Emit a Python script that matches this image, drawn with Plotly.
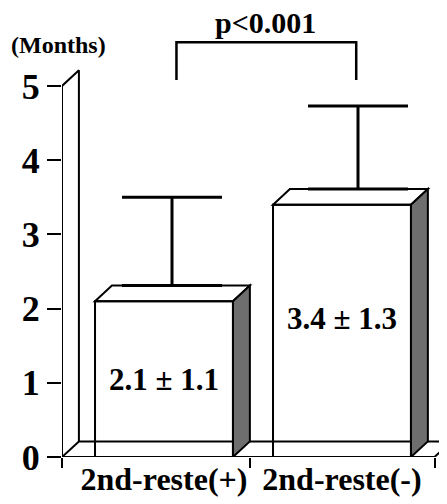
import plotly.graph_objects as go

# ---- data ----
categories = ["2nd-reste(+)", "2nd-reste(-)"]
means = [2.1, 3.4]
sds = [1.1, 1.3]
whisker_tops = [3.5, 4.73]          # drawn whisker ends
y_ticks = [0, 1, 2, 3, 4, 5]
p_text = "p<0.001"
y_unit = "(Months)"

# ---- geometry / style ----
DX, DY = 0.095, 0.21        # 3-D depth offset (data units)
BAR_W = 0.775
X0, X1 = -0.573, 1.52       # floor extent
XMAX = 1.59
YMAX = 6.05
SERIF = "Liberation Serif"
LW = 2
WHISKER_SHIFT = [0.045, 0.09]

xs = list(range(len(categories)))
fig = go.Figure()

# front faces
fig.add_trace(go.Bar(x=xs, y=means, width=BAR_W,
                     marker=dict(color="white", line=dict(color="black", width=LW)),
                     hoverinfo="skip", showlegend=False))

# floor and left wall outlines
fig.add_trace(go.Scatter(
    x=[X0, X1, X1 + DX, None, X0, X0 + DX, XMAX + DX, None,
       X0, X0, X0 + DX, X0 + DX],
    y=[0, 0, DY, None, 0, DY, DY, None,
       0, y_ticks[-1], y_ticks[-1] + DY, DY],
    mode="lines", line=dict(color="black", width=LW),
    hoverinfo="skip", showlegend=False, cliponaxis=False))

# top and side faces
for x, m in zip(xs, means):
    l, r = x - BAR_W / 2, x + BAR_W / 2
    fig.add_shape(type="path", layer="above",
                  path=f"M{l},{m} L{l+DX},{m+DY} L{r+DX},{m+DY} L{r},{m} Z",
                  line=dict(color="black", width=LW))
    fig.add_shape(type="path", layer="above",
                  path=f"M{r},0 L{r},{m} L{r+DX},{m+DY} L{r+DX},{DY} Z",
                  fillcolor="#6e6e6e", line=dict(color="black", width=LW))

# whiskers
fig.add_trace(go.Scatter(
    x=[x + s for x, s in zip(xs, WHISKER_SHIFT)], y=[m + DY for m in means],
    mode="markers", marker=dict(size=1, color="rgba(0,0,0,0)"),
    error_y=dict(type="data", symmetric=False,
                 array=[t - (m + DY) for t, m in zip(whisker_tops, means)],
                 arrayminus=[0] * len(means),
                 color="black", thickness=3, width=50),
    hoverinfo="skip", showlegend=False))

# significance bracket
fig.add_trace(go.Scatter(
    x=[0.07, 0.07, 1.08, 1.08], y=[5.08, 5.59, 5.59, 5.08],
    mode="lines", line=dict(color="black", width=2.5),
    hoverinfo="skip", showlegend=False, cliponaxis=False))

fig.add_annotation(x=0.573, y=5.86, text=p_text, showarrow=False,
                   font=dict(family=SERIF, size=30, color="black", weight="bold"))
fig.add_annotation(xref="paper", yref="y", x=-0.008, y=5.55, text=y_unit,
                   xanchor="center", yanchor="middle", showarrow=False,
                   font=dict(family=SERIF, size=24, color="black", weight="bold"))

label_y = [1.04, 1.87]
for x, m, s, ly in zip(xs, means, sds, label_y):
    fig.add_annotation(x=x, y=ly, text=f"{m} ± {s}", showarrow=False,
                       font=dict(family=SERIF, size=31, color="black", weight="bold"))

fig.update_layout(
    width=439, height=496,
    margin=dict(l=54, r=0, t=0, b=47),
    paper_bgcolor="white", plot_bgcolor="white",
    showlegend=False,
    xaxis=dict(range=[X0, XMAX], tickvals=xs, ticktext=categories, automargin=False,
               ticks="", showgrid=False, zeroline=False, showline=False,
               tickfont=dict(family=SERIF, size=32, color="black", weight="bold"),
               minor=dict(tickvals=[X0, 0.483, X1], ticks="outside", ticklen=10,
                          tickwidth=1.5, tickcolor="black", showgrid=False)),
    yaxis=dict(range=[0, YMAX], tickvals=y_ticks, ticks="outside", ticklen=14,
               tickwidth=1.5, tickcolor="black", showgrid=False, zeroline=False,
               showline=False, automargin=False,
               tickfont=dict(family=SERIF, size=36, color="black", weight="bold")),
)

fig.write_html("out.html")
